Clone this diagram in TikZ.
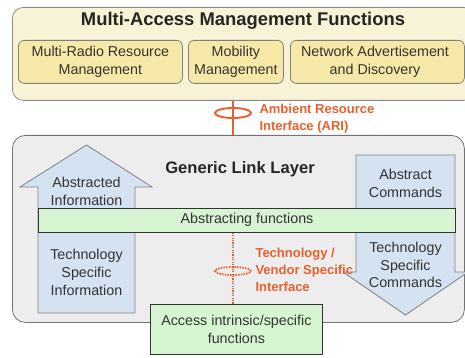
\documentclass[tikz,border=0pt]{standalone}
\usepackage{fontspec}
\setmainfont{Liberation Sans}
\begin{document}
\begin{tikzpicture}[x=1pt,y=-1pt,
  outerA/.style={draw=black!45, line width=0.8pt, rounded corners=11pt, fill=creamc, anchor=north west, inner sep=0pt},
  innerA/.style={draw=black!50, line width=0.8pt, rounded corners=6pt, fill=yellowc, anchor=north west, inner sep=0pt},
  outerB/.style={draw=black!55, line width=0.8pt, rounded corners=13pt, fill=grayc, anchor=north west, inner sep=0pt},
  arrowshape/.style={draw=black!50, line width=0.8pt, fill=bluec},
  greenbox/.style={draw=black!80, line width=0.8pt, fill=greenc, anchor=north west, inner sep=0pt},
  lbl/.style={font=\fontsize{14.3}{17.8}\selectfont, text=black!80, align=center},
  ttl/.style={font=\fontsize{18.4}{20}\selectfont\bfseries, text=black!85},
  ttlb/.style={font=\fontsize{16.6}{20}\selectfont\bfseries, text=black!85},
  otxt/.style={font=\fontsize{13}{17}\selectfont\bfseries, text=orangec, align=left, anchor=west},
  ari/.style={draw=orangec, line width=2pt},
  vsi/.style={draw=orangec, line width=2.4pt, dash pattern=on 1.2pt off 1.2pt}
]
\definecolor{creamc}{HTML}{F8F3D6}
\definecolor{yellowc}{HTML}{F6E8A6}
\definecolor{grayc}{HTML}{EDEDED}
\definecolor{bluec}{HTML}{D5E2F2}
\definecolor{greenc}{HTML}{D8F5D3}
\definecolor{orangec}{HTML}{E8602C}
\useasboundingbox (0,0) rectangle (465,358);
\clip (0,0) rectangle (465,358);
\fill[white] (0,0) rectangle (465,358);

% top block
\node[outerA, minimum width=462pt, minimum height=93pt] (mam) at (12,7) {};
\node[ttl] (mamt) at (243,21) {Multi-Access Management Functions};
\node[innerA, minimum width=164pt, minimum height=43pt] (mrrm) at (18,40) {};
\node[lbl] (mrrmt) at (mrrm.center) {Multi-Radio Resource\\Management};
\node[innerA, minimum width=95pt, minimum height=43pt] (mob) at (188,40) {};
\node[lbl] (mobt) at (mob.center) {Mobility\\Management};
\node[innerA, minimum width=174pt, minimum height=43pt] (nad) at (290,40) {};
\node[lbl] (nadt) at (375,61.5) {Network Advertisement\\and Discovery};

% lower block
\node[outerB, minimum width=452pt, minimum height=187pt] (gll) at (12,135) {};
\node[ttlb] (gllt) at (240,169) {Generic Link Layer};

% ARI
\coordinate (arix) at (233,0);
\draw[orangec, line width=1.9pt] (233,113) ellipse (18pt and 5pt);
\draw[ari] (mam.south -| arix) -- (gll.north -| arix);
\node[otxt] (arit) at (256,118.5) {Ambient Resource\\Interface (ARI)};

% up arrow
\draw[arrowshape] (38,313) -- (38,187) -- (20,187) -- (86.5,145) -- (152,187) -- (135,187) -- (135,313) -- cycle;
\node[lbl] (absinfo) at (86.5,191) {Abstracted\\Information};
\node[lbl] (tsi) at (86.5,272.5) {Technology\\Specific\\Information};

% down arrow
\draw[arrowshape] (356,155) -- (455,155) -- (455,272) -- (468,272) -- (405.5,315) -- (343,272) -- (356,272) -- cycle;
\node[lbl] (abscmd) at (405.5,183) {Abstract\\Commands};
\node[lbl] (tsc) at (405.5,265) {Technology\\Specific\\Commands};

% abstracting functions bar
\node[greenbox, minimum width=417pt, minimum height=24pt] (absf) at (38,208) {};
\node[lbl] (absft) at (247,220) {Abstracting functions};

% access box
\node[greenbox, minimum width=172pt, minimum height=50pt] (acc) at (150,304) {};
\node[lbl] (acct) at (acc.center) {Access intrinsic/specific\\functions};

% technology / vendor specific interface
\draw[vsi] (absf.south -| arix) -- (acc.north -| arix);
\draw[orangec, line width=1.9pt, dash pattern=on 1.5pt off 1.2pt] (233,271) ellipse (18pt and 4pt);
\node[otxt] (vsit) at (252,269.5) {Technology /\\Vendor Specific\\Interface};
\end{tikzpicture}
\end{document}
